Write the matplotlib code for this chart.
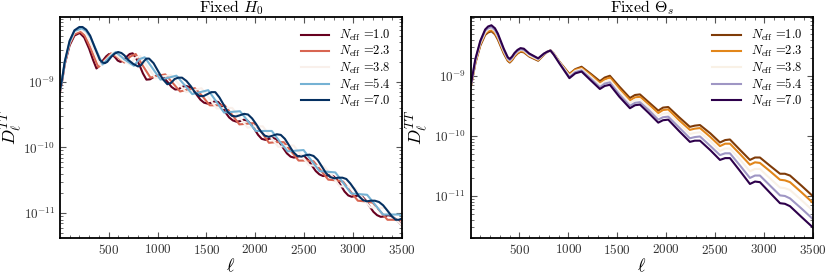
import numpy as np
import matplotlib
matplotlib.use("Agg")
import matplotlib.pyplot as plt

# N_eff values shown in the legend (curves 0, 4, 9, 14, 19 of 20)
neff = [1.0, 2.3, 3.8, 5.4, 7.0]
cmap_pos = [0 / 19, 4 / 19, 9 / 19, 14 / 19, 19 / 19]

# ---- Fixed H0 panel: log10(D_l^TT) ----
ell_h0_10 = [2, 25, 50, 100, 150, 204, 250, 300, 340, 375, 405, 440, 475, 504, 535, 565, 592, 620,
             652, 685, 715, 745, 780, 815, 850, 886, 923, 960, 995, 1030, 1068, 1105, 1142, 1180,
             1215, 1250, 1288, 1325, 1362, 1400, 1438, 1475, 1512, 1550, 1585, 1620, 1658, 1695,
             1732, 1770, 1808, 1845, 1880, 1915, 1952, 1990, 2028, 2065, 2102, 2140, 2175, 2210,
             2248, 2285, 2322, 2360, 2395, 2430, 2468, 2505, 2542, 2580, 2618, 2655, 2692, 2730,
             2765, 2800, 2838, 2875, 2912, 2950, 2985, 3020, 3058, 3095, 3132, 3170, 3208, 3245,
             3282, 3320, 3355, 3390, 3445, 3500]
logd_h0_10 = [-9.16, -8.98, -8.74, -8.45, -8.30, -8.26, -8.33, -8.50, -8.67, -8.80, -8.76, -8.68,
              -8.615, -8.58, -8.59, -8.63, -8.68, -8.70, -8.68, -8.62, -8.58, -8.57, -8.645, -8.75,
              -8.875, -8.97, -8.965, -8.93, -8.905, -8.91, -8.945, -9.01, -9.08, -9.12, -9.115,
              -9.08, -9.065, -9.08, -9.125, -9.20, -9.275, -9.32, -9.335, -9.32, -9.30, -9.31,
              -9.375, -9.47, -9.545, -9.59, -9.61, -9.60, -9.58, -9.59, -9.64, -9.72, -9.81, -9.87,
              -9.885, -9.87, -9.855, -9.87, -9.925, -10.01, -10.09, -10.14, -10.155, -10.14,
              -10.125, -10.14, -10.195, -10.28, -10.36, -10.41, -10.435, -10.43, -10.42, -10.44,
              -10.495, -10.58, -10.67, -10.73, -10.75, -10.74, -10.73, -10.75, -10.81, -10.90,
              -10.98, -11.03, -11.055, -11.05, -11.03, -11.04, -11.10, -11.19]

ell_h0_23 = [2, 25, 50, 100, 150, 210, 255, 305, 393, 455, 523, 600, 660, 720, 776, 850, 927, 1003,
             1079, 1155, 1230, 1306, 1382, 1458, 1533, 1609, 1685, 1760, 1836, 1912, 1988, 2064,
             2139, 2215, 2291, 2367, 2442, 2518, 2594, 2670, 2745, 2821, 2897, 2973, 3048, 3124,
             3200, 3276, 3351, 3427, 3500]
logd_h0_23 = [-9.15, -8.97, -8.73, -8.43, -8.28, -8.24, -8.30, -8.46, -8.78, -8.68, -8.57, -8.64,
              -8.71, -8.62, -8.58, -8.76, -8.94, -8.91, -8.89, -9.02, -9.15, -9.12, -9.10, -9.22,
              -9.36, -9.36, -9.36, -9.50, -9.65, -9.64, -9.63, -9.77, -9.93, -9.92, -9.92, -10.06,
              -10.20, -10.20, -10.21, -10.35, -10.49, -10.50, -10.52, -10.67, -10.81, -10.82,
              -10.84, -10.97, -11.10, -11.10, -11.11]

ell_h0_38 = [2, 25, 50, 100, 150, 217, 262, 310, 415, 480, 547, 630, 716, 770, 821, 900, 978, 1056,
             1135, 1213, 1292, 1370, 1449, 1527, 1606, 1684, 1763, 1841, 1920, 1998, 2077, 2155,
             2234, 2312, 2391, 2469, 2548, 2626, 2705, 2783, 2862, 2940, 3019, 3097, 3176, 3254,
             3333, 3411, 3500]
logd_h0_38 = [-9.14, -8.96, -8.72, -8.41, -8.25, -8.21, -8.26, -8.39, -8.75, -8.66, -8.56, -8.66,
              -8.74, -8.64, -8.61, -8.78, -8.95, -8.92, -8.90, -9.03, -9.16, -9.13, -9.10, -9.25,
              -9.41, -9.40, -9.40, -9.55, -9.70, -9.68, -9.68, -9.84, -9.99, -9.98, -9.97, -10.12,
              -10.27, -10.28, -10.29, -10.43, -10.59, -10.60, -10.62, -10.77, -10.91, -10.92,
              -10.92, -11.06, -11.19]

ell_h0_54 = [2, 25, 50, 100, 150, 225, 268, 315, 438, 500, 572, 660, 758, 812, 868, 950, 1030, 1111,
             1193, 1274, 1355, 1436, 1518, 1599, 1680, 1761, 1843, 1924, 2005, 2086, 2168, 2249,
             2330, 2411, 2493, 2574, 2655, 2736, 2818, 2899, 2980, 3061, 3143, 3224, 3305, 3386,
             3468, 3500]
logd_h0_54 = [-9.14, -8.95, -8.71, -8.40, -8.23, -8.19, -8.23, -8.33, -8.74, -8.64, -8.55, -8.66,
              -8.76, -8.66, -8.63, -8.80, -8.97, -8.94, -8.91, -9.05, -9.19, -9.16, -9.13, -9.30,
              -9.47, -9.46, -9.45, -9.60, -9.75, -9.75, -9.75, -9.91, -10.06, -10.05, -10.04,
              -10.20, -10.36, -10.37, -10.38, -10.54, -10.70, -10.71, -10.72, -10.87, -11.02,
              -11.02, -11.02, -11.04]

ell_h0_70 = [2, 25, 50, 100, 150, 200, 232, 270, 310, 360, 410, 440, 460, 485, 528, 560, 596, 630,
             660, 700, 750, 801, 830, 860, 886, 913, 959, 1005, 1052, 1100, 1137, 1175, 1212, 1250,
             1295, 1340, 1385, 1430, 1470, 1510, 1550, 1590, 1632, 1675, 1717, 1760, 1802, 1845,
             1885, 1925, 1967, 2010, 2052, 2095, 2137, 2180, 2220, 2260, 2302, 2345, 2387, 2430,
             2470, 2510, 2552, 2595, 2637, 2680, 2722, 2765, 2807, 2850, 2890, 2930, 2972, 3015,
             3057, 3100, 3140, 3180, 3222, 3265, 3307, 3350, 3392, 3435, 3467, 3500]
logd_h0_70 = [-9.13, -8.95, -8.70, -8.38, -8.22, -8.17, -8.17, -8.21, -8.30, -8.49, -8.67, -8.71,
              -8.72, -8.70, -8.62, -8.575, -8.55, -8.565, -8.60, -8.67, -8.73, -8.77, -8.75, -8.69,
              -8.65, -8.65, -8.72, -8.84, -8.96, -9.04, -9.02, -8.96, -8.94, -8.94, -8.99, -9.07,
              -9.17, -9.22, -9.22, -9.19, -9.16, -9.16, -9.24, -9.35, -9.46, -9.52, -9.53, -9.51,
              -9.49, -9.50, -9.56, -9.65, -9.75, -9.82, -9.84, -9.82, -9.80, -9.81, -9.87, -9.97,
              -10.07, -10.13, -10.14, -10.12, -10.11, -10.13, -10.19, -10.29, -10.39, -10.45,
              -10.47, -10.46, -10.46, -10.48, -10.55, -10.64, -10.74, -10.80, -10.82, -10.81,
              -10.81, -10.83, -10.88, -10.96, -11.04, -11.10, -11.10, -11.08]

# ---- Fixed theta_s panel: same multipoles for every curve ----
ell_ts = [2, 20, 50, 100, 150, 180, 214, 250, 280, 340, 380, 401, 425, 450, 480, 511, 545, 600,
          691, 750, 785, 817, 850, 910, 1010, 1070, 1134, 1230, 1321, 1370, 1423, 1520, 1628, 1680,
          1730, 1820, 1917, 1965, 2019, 2130, 2240, 2290, 2343, 2450, 2547, 2600, 2649, 2750, 2853,
          2905, 2955, 3060, 3160, 3210, 3262, 3380, 3500]
logd_ts_10 = [-9.20, -9.05, -8.79, -8.50, -8.32, -8.28, -8.26, -8.31, -8.40, -8.63, -8.75, -8.78,
              -8.74, -8.68, -8.63, -8.60, -8.61, -8.68, -8.75, -8.65, -8.60, -8.58, -8.63, -8.77,
              -8.97, -8.89, -8.85, -8.97, -9.09, -9.03, -9.00, -9.18, -9.37, -9.32, -9.31, -9.44,
              -9.58, -9.53, -9.52, -9.69, -9.85, -9.83, -9.82, -9.96, -10.11, -10.07, -10.06,
              -10.23, -10.40, -10.36, -10.36, -10.50, -10.63, -10.63, -10.66, -10.83, -11.01]
logd_ts_23 = [-9.19, -9.04, -8.78, -8.48, -8.30, -8.26, -8.24, -8.29, -8.38, -8.61, -8.74, -8.77,
              -8.73, -8.67, -8.62, -8.59, -8.60, -8.67, -8.74, -8.65, -8.60, -8.58, -8.63, -8.78,
              -8.98, -8.90, -8.87, -8.99, -9.12, -9.06, -9.03, -9.22, -9.41, -9.36, -9.35, -9.48,
              -9.62, -9.57, -9.56, -9.74, -9.90, -9.88, -9.87, -10.02, -10.17, -10.13, -10.13,
              -10.30, -10.48, -10.44, -10.45, -10.59, -10.73, -10.74, -10.77, -10.94, -11.12]
logd_ts_38 = [-9.19, -9.03, -8.76, -8.46, -8.28, -8.23, -8.21, -8.26, -8.35, -8.59, -8.72, -8.75,
              -8.71, -8.65, -8.60, -8.57, -8.58, -8.66, -8.73, -8.64, -8.60, -8.58, -8.63, -8.78,
              -9.00, -8.92, -8.89, -9.02, -9.15, -9.10, -9.07, -9.26, -9.45, -9.40, -9.39, -9.52,
              -9.67, -9.63, -9.62, -9.80, -9.97, -9.95, -9.94, -10.09, -10.25, -10.21, -10.21,
              -10.39, -10.59, -10.55, -10.55, -10.71, -10.86, -10.87, -10.90, -11.07, -11.25]
logd_ts_54 = [-9.18, -9.01, -8.74, -8.44, -8.25, -8.21, -8.19, -8.24, -8.33, -8.57, -8.71, -8.74,
              -8.70, -8.64, -8.59, -8.56, -8.57, -8.64, -8.72, -8.64, -8.60, -8.58, -8.64, -8.79,
              -9.02, -8.94, -8.91, -9.05, -9.19, -9.13, -9.11, -9.31, -9.50, -9.45, -9.44, -9.57,
              -9.73, -9.69, -9.68, -9.86, -10.04, -10.02, -10.01, -10.17, -10.32, -10.29, -10.29,
              -10.49, -10.70, -10.66, -10.66, -10.83, -10.99, -11.00, -11.04, -11.21, -11.39]
logd_ts_70 = [-9.17, -9.00, -8.72, -8.42, -8.23, -8.18, -8.16, -8.21, -8.30, -8.55, -8.69, -8.72,
              -8.68, -8.62, -8.57, -8.54, -8.55, -8.63, -8.71, -8.63, -8.60, -8.58, -8.65, -8.80,
              -9.04, -8.96, -8.93, -9.08, -9.22, -9.17, -9.15, -9.35, -9.54, -9.49, -9.48, -9.62,
              -9.78, -9.74, -9.73, -9.92, -10.10, -10.08, -10.08, -10.24, -10.40, -10.37, -10.37,
              -10.58, -10.80, -10.76, -10.77, -10.95, -11.12, -11.13, -11.17, -11.35, -11.53]

h0_curves = [(ell_h0_10, logd_h0_10), (ell_h0_23, logd_h0_23), (ell_h0_38, logd_h0_38),
             (ell_h0_54, logd_h0_54), (ell_h0_70, logd_h0_70)]
ts_curves = [logd_ts_10, logd_ts_23, logd_ts_38, logd_ts_54, logd_ts_70]

plt.rcParams["font.family"] = "serif"
plt.rcParams["font.serif"] = ["cmr10", "DejaVu Serif"]
plt.rcParams["mathtext.fontset"] = "cm"
plt.rcParams["axes.formatter.use_mathtext"] = True
plt.rcParams["axes.unicode_minus"] = False
plt.rcParams["axes.linewidth"] = 1.3
plt.rcParams["xtick.direction"] = "in"
plt.rcParams["ytick.direction"] = "in"
plt.rcParams["xtick.top"] = True
plt.rcParams["ytick.right"] = True
plt.rcParams["xtick.major.size"] = 4
plt.rcParams["ytick.major.size"] = 4
plt.rcParams["xtick.minor.size"] = 2
plt.rcParams["ytick.minor.size"] = 2
plt.rcParams["xtick.color"] = "#555555"
plt.rcParams["ytick.color"] = "#555555"
plt.rcParams["xtick.labelcolor"] = "#333333"
plt.rcParams["ytick.labelcolor"] = "#333333"

fig = plt.figure(figsize=(8.31, 2.74), dpi=100)
ax1 = fig.add_axes([0.0722, 0.1314, 0.4116, 0.8066])
ax2 = fig.add_axes([0.5664, 0.1314, 0.4123, 0.8066])

rdbu = plt.get_cmap("RdBu")
puor = plt.get_cmap("PuOr")

for (ell, logd), n, c in zip(h0_curves, neff, cmap_pos):
    ax1.plot(ell, 10 ** np.array(logd), color=rdbu(c), lw=1.5,
             solid_joinstyle="round", label=r"$N_{\rm eff}$ =%.1f" % n)

for logd, n, c in zip(ts_curves, neff, cmap_pos):
    ax2.plot(ell_ts, 10 ** np.array(logd), color=puor(c), lw=1.5,
             solid_joinstyle="round", label=r"$N_{\rm eff}$ =%.1f" % n)

ax1.set_title(r"Fixed $H_0$", fontsize=11.5, pad=3)
ax2.set_title(r"Fixed $\Theta_s$", fontsize=11.5, pad=3)
ax1.set_ylim(4.2e-12, 9.6e-9)
ax2.set_ylim(2.0e-12, 9.5e-9)

for ax in (ax1, ax2):
    ax.set_yscale("log")
    ax.set_xlim(2, 3500)
    ax.set_xticks([500, 1000, 1500, 2000, 2500, 3000, 3500])
    ax.set_xticks(np.arange(100, 3500, 100), minor=True)
    ax.tick_params(labelsize=9.5)
    ax.set_xlabel(r"$\ell$", fontsize=13, labelpad=0)
    ax.set_ylabel(r"$D_\ell^{TT}$", fontsize=13)
    ax.legend(loc="upper right", frameon=False, fontsize=9, labelspacing=0.08,
              handlelength=2.3, borderaxespad=0.5)

ax1.yaxis.set_label_coords(-0.105, 0.5)
ax2.yaxis.set_label_coords(-0.12, 0.5)

fig.savefig("out.png", dpi=100)
